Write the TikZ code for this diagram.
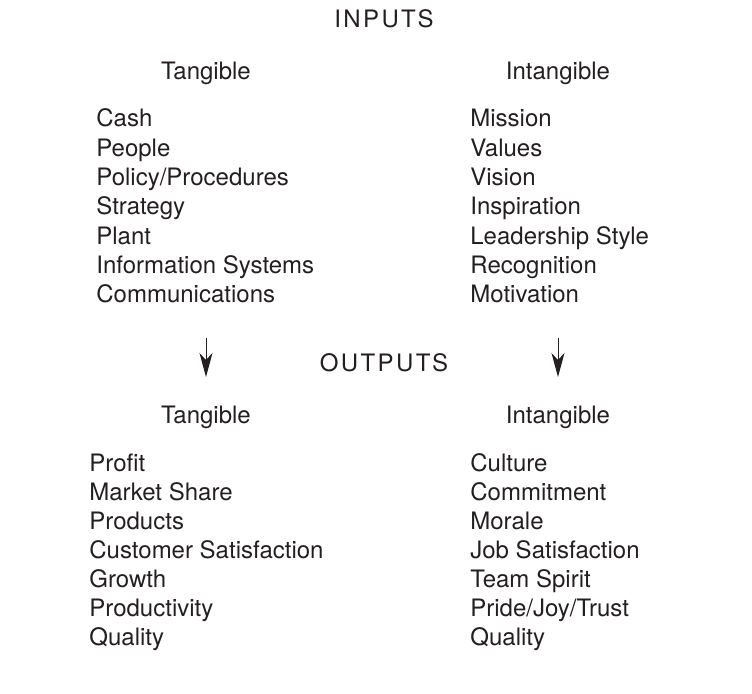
\documentclass[tikz,border=0pt]{standalone}
\usepackage{fontspec}
\setmainfont{TeX Gyre Heros}
\usetikzlibrary{arrows.meta,positioning}
\definecolor{inkgray}{RGB}{35,31,32}

\begin{document}
\begin{tikzpicture}[
    x=0.5pt, y=-0.5pt,
    txt/.style={inner sep=0pt, text=inkgray, font=\fontsize{12}{14}\selectfont},
    title/.style={txt, anchor=base, font=\fontsize{12}{14}\selectfont\addfontfeature{LetterSpace=10}},
    head/.style={txt, anchor=base},
    item/.style={txt, anchor=base west},
    flow/.style={draw=inkgray, line width=0.5pt, -{Stealth[length=12pt, width=6.5pt, inset=3.5pt]}}
]
    \useasboundingbox (0,0) rectangle (752,694);

    % Inputs
    \node[title] (inputs) at (384,28) {INPUTS};
    \node[head] (intan) at (206,80) {Tangible};
    \node[head] (inintan) at (558,80) {Intangible};
    \foreach \name [count=\i] in {Cash, People, {Policy/Procedures}, Strategy, Plant, Information Systems, Communications}
        \node[item] (intan-\i) at (96,{127+29.3*(\i-1)}) {\name};
    \foreach \name [count=\i] in {Mission, Values, Vision, Inspiration, Leadership Style, Recognition, Motivation}
        \node[item] (ininta-\i) at (470,{127+29.3*(\i-1)}) {\name};

    % Outputs
    \node[title] (outputs) at (384,372) {OUTPUTS};
    \node[head] (outtan) at (206,424) {Tangible};
    \node[head] (outintan) at (558,424) {Intangible};
    \foreach \name [count=\i] in {Profit, Market Share, Products, Customer Satisfaction, Growth, Productivity, Quality}
        \node[item] (outtan-\i) at (89,{472+29*(\i-1)}) {\name};
    \foreach \name [count=\i] in {Culture, Commitment, Morale, Job Satisfaction, Team Spirit, {Pride/Joy/Trust}, Quality}
        \node[item] (outinta-\i) at (470,{472+29*(\i-1)}) {\name};

    % Arrows between the two halves
    \coordinate (tanfrom) at (206,338);
    \coordinate (tanto) at (206,377);
    \coordinate (intfrom) at (558,338);
    \coordinate (intto) at (558,377);
    \draw[flow] (tanfrom) -- (tanto);
    \draw[flow] (intfrom) -- (intto);
\end{tikzpicture}
\end{document}
